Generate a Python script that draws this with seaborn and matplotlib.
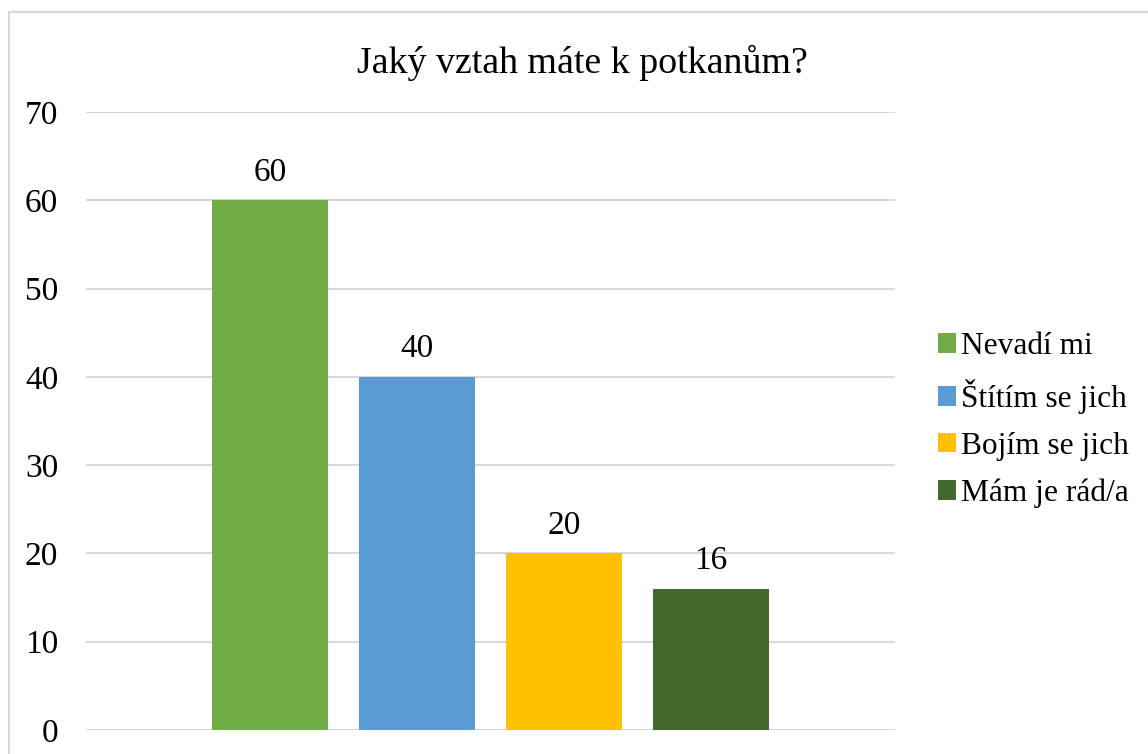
import matplotlib
matplotlib.use('Agg')
import matplotlib.pyplot as plt
from matplotlib.patches import Rectangle, Patch
import seaborn as sns
import pandas as pd

# data
categories = ['Nevadí mi', 'Štítím se jich', 'Bojím se jich', 'Mám je rád/a']
values = [60, 40, 20, 16]
colors = ['#70AD47', '#5B9BD5', '#FFC000', '#43682B']
yticks = [0, 10, 20, 30, 40, 50, 60, 70]

df = pd.DataFrame({'odpoved': categories, 'pocet': values})

sns.set_theme(style='white')
plt.rcParams['font.family'] = ['Liberation Serif', 'DejaVu Serif']
plt.rcParams['text.color'] = 'black'

W, H = 1148, 754
fig = plt.figure(figsize=(W / 100, H / 100), dpi=100)
ax = fig.add_axes([86 / W, 1 - 730 / H, (895 - 86) / W, (730 - 112) / H])

sns.barplot(data=df, x='odpoved', y='pocet', hue='odpoved', palette=colors,
            width=0.79, dodge=False, legend=False, ax=ax, saturation=1, linewidth=0)

ax.set_xlim(-1.255, 4.255)
ax.set_ylim(0, 70)
ax.set_yticks(yticks)
ax.set_xticks([])
ax.set_xlabel('')
ax.set_ylabel('')
ax.yaxis.grid(True, color='#D9D9D9', linewidth=1.5)
ax.set_axisbelow(True)
for s in ax.spines.values():
    s.set_visible(False)
ax.tick_params(axis='y', length=0, pad=20, labelsize=24, labelcolor='black')

for i, v in enumerate(values):
    ax.text(i, v + 1.4, str(v), ha='center', va='bottom', fontsize=24, color='black')

# title
fig.text(582 / W, 1 - 63 / H, 'Jaký vztah máte k potkanům?', ha='center', va='center',
         fontsize=27.3, color='black')

# legend
handles = [Patch(facecolor=c, edgecolor='none') for c in colors]
fig.legend(handles, categories, loc='center left', bbox_to_anchor=(925 / W, 1 - 420 / H),
           frameon=False, fontsize=22.6, handlelength=0.6, handleheight=0.6,
           handletextpad=0.15, labelspacing=0.56, borderaxespad=0, labelcolor='black')

# chart border
fig.add_artist(Rectangle((9 / W, -0.05), 1.2, 1 - 12 / H + 0.05, transform=fig.transFigure,
                         fill=False, edgecolor='#D9D9D9', linewidth=1.5))

fig.savefig('out.png', dpi=100, facecolor='white')
